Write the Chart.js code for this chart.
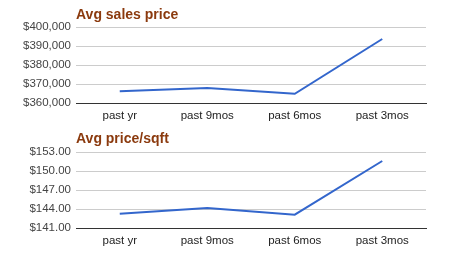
<!DOCTYPE html>
<html>
<head>
<meta charset="utf-8">
<script src="https://cdn.jsdelivr.net/npm/chart.js@4/dist/chart.umd.min.js"></script>
<style>
  body { margin: 0; background: #fff; }
  .box { position: absolute; left: 0; width: 457px; }
</style>
</head>
<body>
<div class="box" style="top:0;height:128px"><canvas id="salesChart"></canvas></div>
<div class="box" style="top:128px;height:136px"><canvas id="sqftChart"></canvas></div>
<script>
let periods = ['past yr', 'past 9mos', 'past 6mos', 'past 3mos'];
let salesPrice = [366300, 368000, 365000, 393700];
let pricePerSqft = [143.26, 144.16, 143.1, 151.58];

// draws the title starting at the left edge of the plot
const titlePlugin = {
    id: 'leftTitle',
    afterDraw(chart, args, opts) {
        let ctx = chart.ctx;
        ctx.save();
        ctx.font = 'bold 14px "Liberation Sans", Arial, sans-serif';
        ctx.fillStyle = '#8b3a0e';
        ctx.textBaseline = 'alphabetic';
        ctx.fillText(opts.text, chart.chartArea.left, opts.y);
        ctx.restore();
    }
};

function makeChart(id, title, titleY, values, yMin, yMax, step, fmt, top, bottom) {
    let ctx = document.getElementById(id).getContext('2d');
    return new Chart(ctx, {
        type: 'line',
        data: {
            labels: periods,
            datasets: [{
                data: values,
                borderColor: '#3366cc',
                borderWidth: 2,
                pointRadius: 0,
                tension: 0,
                fill: false
            }]
        },
        plugins: [titlePlugin],
        options: {
            responsive: true,
            maintainAspectRatio: false,
            animation: false,
            layout: { padding: { top: top, right: 31, left: 0, bottom: 0 } },
            plugins: {
                legend: { display: false },
                tooltip: { enabled: false },
                leftTitle: { text: title, y: titleY }
            },
            scales: {
                x: {
                    offset: true,
                    grid: { display: false, drawTicks: false, offset: true },
                    border: { color: '#333', width: 1 },
                    ticks: {
                        color: '#222',
                        padding: 6,
                        font: { family: '"Liberation Sans", Arial, sans-serif', size: 11.5 }
                    },
                    afterFit(scale) { scale.height = bottom; }
                },
                y: {
                    min: yMin,
                    max: yMax,
                    grid: { color: '#cccccc', drawTicks: false },
                    border: { display: false },
                    ticks: {
                        stepSize: step,
                        color: '#444',
                        padding: 5,
                        font: { family: '"Liberation Sans", Arial, sans-serif', size: 11.5 },
                        callback: fmt
                    },
                    afterFit(scale) { scale.width = 76; }
                }
            }
        }
    });
}

makeChart('salesChart', 'Avg sales price', 19, salesPrice, 360000, 400000, 10000,
    v => '$' + v.toLocaleString('en-US'), 27, 24.7);
makeChart('sqftChart', 'Avg price/sqft', 15, pricePerSqft, 141, 153, 3,
    v => '$' + v.toFixed(2), 24, 36);
</script>
</body>
</html>
